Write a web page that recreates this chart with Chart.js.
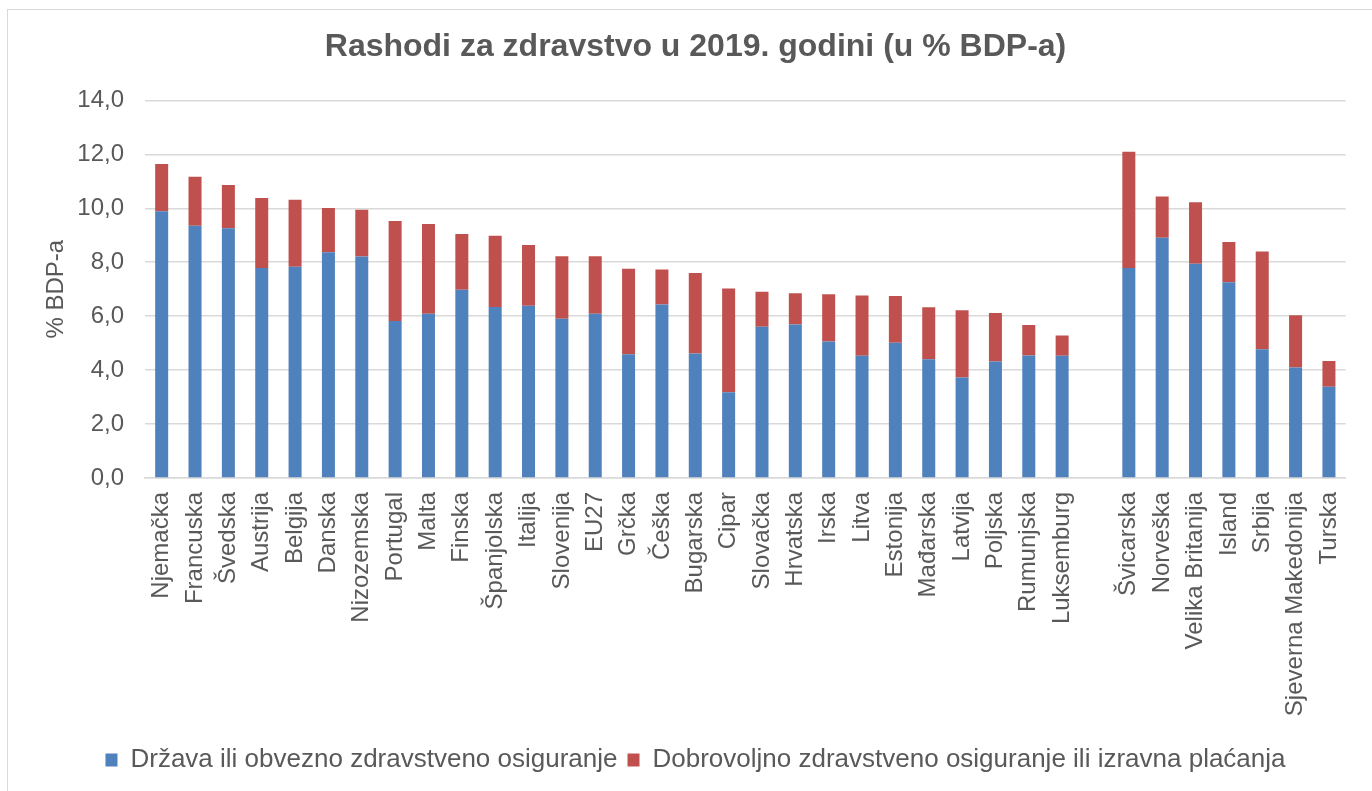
<!DOCTYPE html>
<html>
<head>
<meta charset="utf-8">
<script src="https://cdn.jsdelivr.net/npm/chart.js@4.4.0/dist/chart.umd.min.js"></script>
<style>
  html, body { margin: 0; padding: 0; background: #fff; }
  #frame { position: absolute; left: 7px; top: 9px; width: 1400px; height: 820px; border: 1.5px solid #d9d9d9; }
  #wrap { position: absolute; left: 0; top: 0; width: 1372px; height: 791px; }
</style>
</head>
<body>
<div id="frame"></div>
<div id="wrap"><canvas id="myChart"></canvas></div>
<script>
// zemlje (prazno mjesto odvaja EU od ostalih)
var countries = ['Njemačka','Francuska','Švedska','Austrija','Belgija','Danska','Nizozemska','Portugal','Malta','Finska','Španjolska','Italija','Slovenija','EU27','Grčka','Češka','Bugarska','Cipar','Slovačka','Hrvatska','Irska','Litva','Estonija','Mađarska','Latvija','Poljska','Rumunjska','Luksemburg','','Švicarska','Norveška','Velika Britanija','Island','Srbija','Sjeverna Makedonija','Turska']

var drzava = [9.89,9.35,9.26,7.79,7.83,8.37,8.21,5.82,6.09,6.98,6.34,6.39,5.90,6.09,4.59,6.43,4.62,3.18,5.61,5.69,5.06,4.53,5.01,4.40,3.73,4.32,4.54,4.53,null,7.79,8.91,7.94,7.26,4.77,4.10,3.38]
var dobrovoljno = [1.75,1.82,1.60,2.59,2.49,1.64,1.74,3.71,3.33,2.07,2.64,2.25,2.32,2.13,3.17,1.30,2.98,3.85,1.30,1.16,1.75,2.24,1.74,1.93,2.49,1.80,1.13,0.75,null,4.31,1.53,2.28,1.49,3.63,1.93,0.96]

var yTicks = [0,2,4,6,8,10,12,14]

var grey = '#595959'
var font = 'Liberation Sans, Arial, sans-serif'

chart = new Chart('myChart', {
    type: 'bar',
    data: {
        labels: countries,
        datasets: [{
            label: 'Država ili obvezno zdravstveno osiguranje',
            backgroundColor: '#4f81bd',
            data: drzava
        }, {
            label: 'Dobrovoljno zdravstveno osiguranje ili izravna plaćanja',
            backgroundColor: '#c0504d',
            data: dobrovoljno
        }]
    },
    options: {
        responsive: true,
        maintainAspectRatio: false,
        animation: false,
        layout: { padding: { left: 38, right: 19, top: 0, bottom: 8 } },
        datasets: { bar: { categoryPercentage: 1, barPercentage: 0.39 } },
        plugins: {
            title: {
                display: true,
                text: 'Rashodi za zdravstvo u 2019. godini (u % BDP-a)',
                color: grey,
                font: { family: font, size: 32, weight: 'bold' },
                padding: { top: 28, bottom: 34 }
            },
            legend: {
                position: 'bottom',
                labels: {
                    color: grey,
                    font: { family: font, size: 26 },
                    boxWidth: 12,
                    boxHeight: 13,
                    padding: 10
                }
            },
            tooltip: { enabled: false }
        },
        scales: {
            x: {
                stacked: true,
                grid: { display: false, drawTicks: false },
                border: { color: '#d9d9d9', width: 1.5 },
                ticks: {
                    color: grey,
                    font: { family: font, size: 24 },
                    maxRotation: 90,
                    minRotation: 90,
                    autoSkip: false,
                    padding: 14
                },
                afterFit: function (axis) { axis.height = 259 }
            },
            y: {
                stacked: true,
                min: 0,
                max: 14,
                afterBuildTicks: function (axis) { axis.ticks = yTicks.map(function (v) { return { value: v } }) },
                grid: { color: '#d9d9d9', lineWidth: 1.5, drawTicks: false },
                border: { display: false },
                title: {
                    display: true,
                    text: '% BDP-a',
                    color: grey,
                    font: { family: font, size: 24 }
                },
                ticks: {
                    color: grey,
                    font: { family: font, size: 24 },
                    padding: 21,
                    callback: function (v) { return v.toFixed(1).replace('.', ',') }
                },
                afterFit: function (axis) { axis.width = 107 }
            }
        }
    }
});
</script>
</body>
</html>
